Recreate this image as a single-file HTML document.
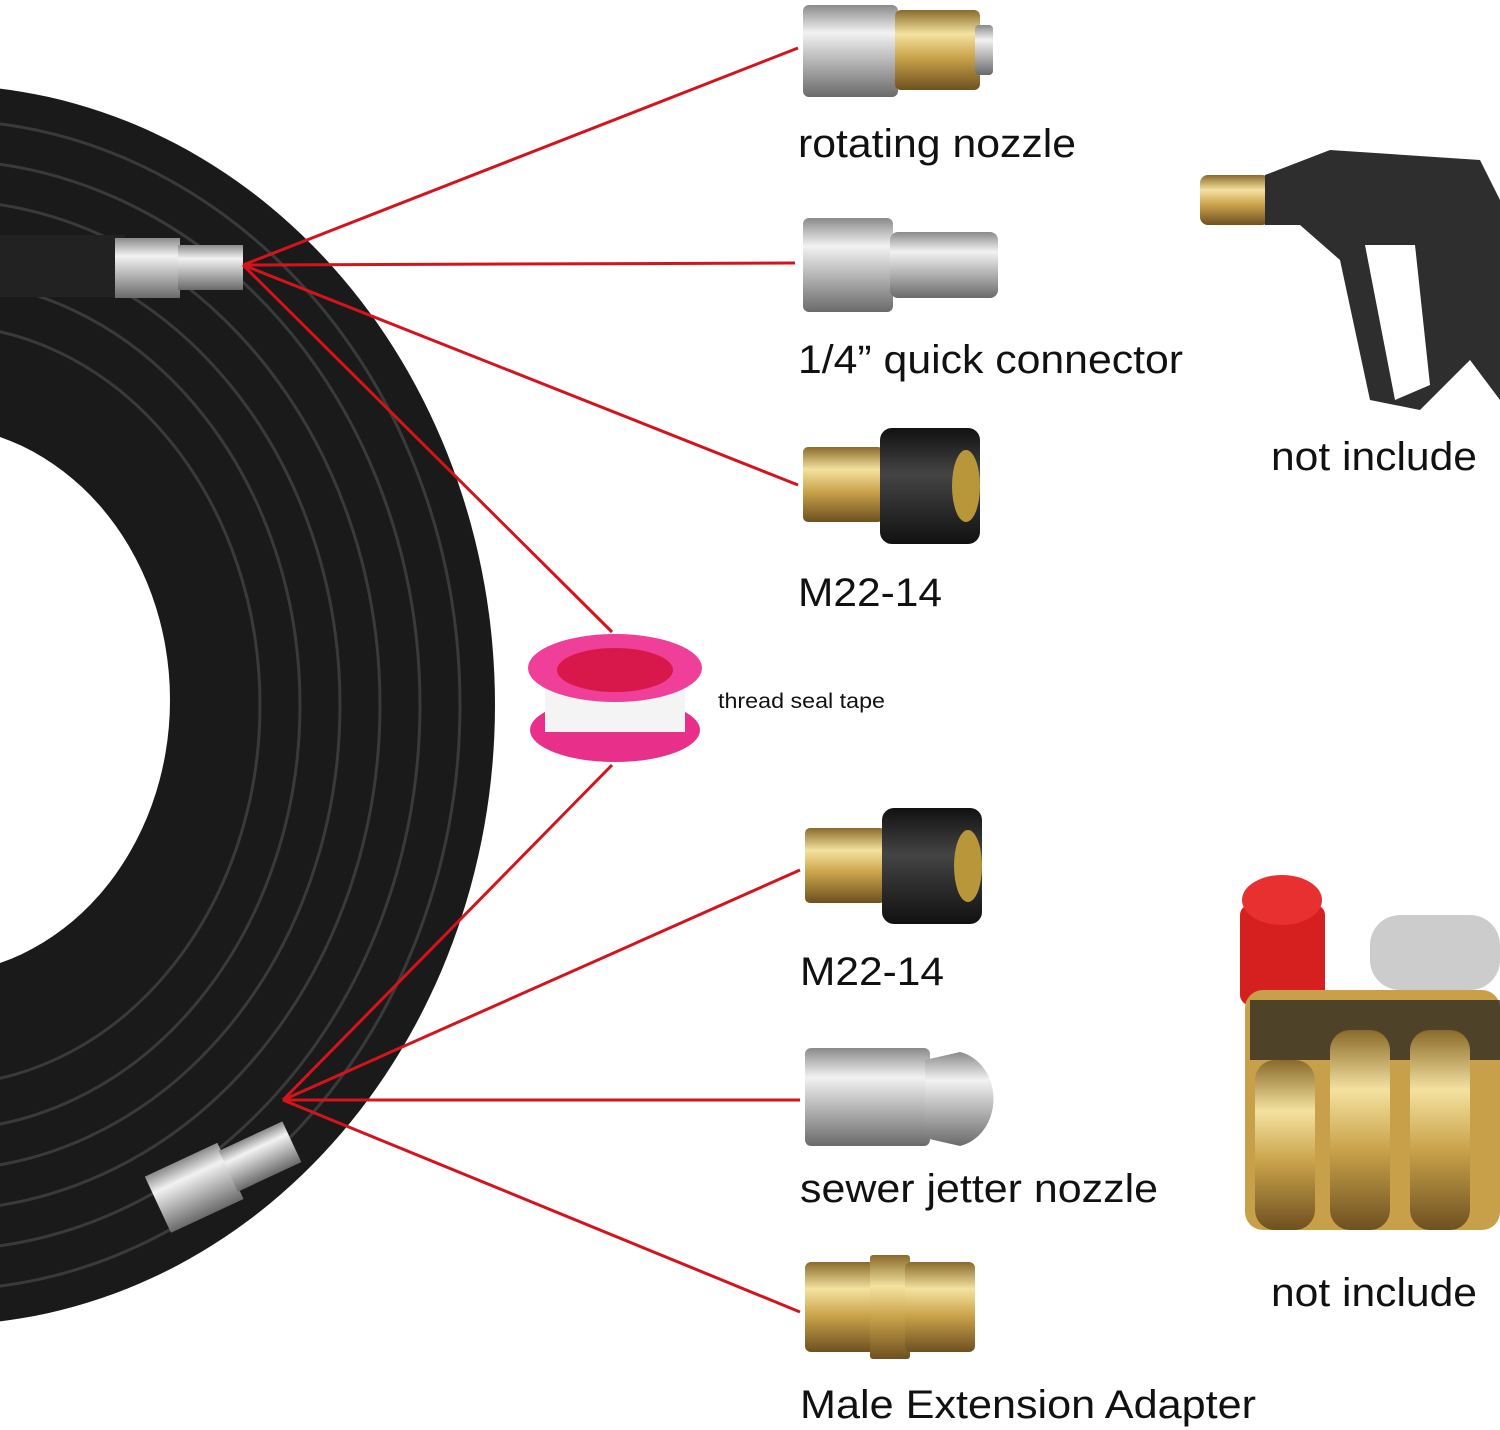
<!DOCTYPE html>
<html><head><meta charset="utf-8"><style>
html,body{margin:0;padding:0;background:#fff;}
svg{display:block}
text{font-family:"Liberation Sans",sans-serif;fill:#111}
</style></head><body>
<svg width="1500" height="1430" viewBox="0 0 1500 1430" xmlns="http://www.w3.org/2000/svg">
<defs>
<linearGradient id="steel" x1="0" y1="0" x2="0" y2="1">
<stop offset="0" stop-color="#8a8a8a"/><stop offset=".3" stop-color="#f2f2f2"/><stop offset=".6" stop-color="#b8b8b8"/><stop offset="1" stop-color="#6a6a6a"/></linearGradient>
<linearGradient id="brass" x1="0" y1="0" x2="0" y2="1">
<stop offset="0" stop-color="#8a6a2a"/><stop offset=".3" stop-color="#f4e2a0"/><stop offset=".6" stop-color="#c9a24a"/><stop offset="1" stop-color="#6e5020"/></linearGradient>
<linearGradient id="blk" x1="0" y1="0" x2="0" y2="1">
<stop offset="0" stop-color="#111"/><stop offset=".4" stop-color="#444"/><stop offset="1" stop-color="#111"/></linearGradient>
</defs>
<ellipse cx="-60" cy="705" rx="555" ry="620" fill="#1a1a1a"/>
<g fill="none" stroke="#3a3a3a" stroke-width="3">
<ellipse cx="-60" cy="705" rx="520" ry="585"/>
<ellipse cx="-60" cy="705" rx="480" ry="545"/>
<ellipse cx="-60" cy="705" rx="440" ry="505"/>
<ellipse cx="-60" cy="705" rx="400" ry="465"/>
<ellipse cx="-60" cy="705" rx="360" ry="425"/>
<ellipse cx="-60" cy="705" rx="320" ry="380"/>
</g>
<ellipse cx="-70" cy="700" rx="240" ry="275" fill="#fff"/>
<rect x="0" y="235" width="125" height="62" fill="#222"/>
<rect x="115" y="238" width="65" height="60" fill="url(#steel)"/>
<rect x="178" y="245" width="65" height="45" fill="url(#steel)"/>
<g transform="rotate(-25 230 1170)">
<rect x="150" y="1140" width="80" height="62" fill="url(#steel)"/>
<rect x="228" y="1148" width="70" height="45" fill="url(#steel)"/>
</g>
<g stroke="#d4141c" stroke-width="3" fill="none">
<line x1="243" y1="265" x2="798" y2="48"/>
<line x1="243" y1="265" x2="795" y2="263"/>
<line x1="243" y1="265" x2="798" y2="485"/>
<line x1="243" y1="265" x2="612" y2="632"/>
<line x1="283" y1="1100" x2="612" y2="765"/>
<line x1="283" y1="1100" x2="800" y2="870"/>
<line x1="283" y1="1100" x2="800" y2="1100"/>
<line x1="283" y1="1100" x2="800" y2="1312"/>
</g>
<rect x="803" y="5" width="95" height="92" rx="6" fill="url(#steel)"/>
<rect x="895" y="10" width="85" height="80" rx="6" fill="url(#brass)"/>
<rect x="975" y="25" width="18" height="50" rx="4" fill="url(#steel)"/>
<text x="798" y="157" font-size="40" textLength="278" lengthAdjust="spacingAndGlyphs">rotating nozzle</text>
<rect x="803" y="218" width="90" height="94" rx="6" fill="url(#steel)"/>
<rect x="890" y="232" width="108" height="66" rx="8" fill="url(#steel)"/>
<text x="798" y="373" font-size="40" textLength="385" lengthAdjust="spacingAndGlyphs">1/4” quick connector</text>
<rect x="803" y="447" width="80" height="75" rx="5" fill="url(#brass)"/>
<rect x="880" y="428" width="100" height="116" rx="12" fill="url(#blk)"/>
<ellipse cx="966" cy="486" rx="14" ry="36" fill="#b8963a"/>
<text x="798" y="606" font-size="40" textLength="144" lengthAdjust="spacingAndGlyphs">M22-14</text>
<ellipse cx="615" cy="730" rx="85" ry="32" fill="#e8308a"/>
<rect x="545" y="670" width="140" height="62" fill="#f4f4f4"/>
<ellipse cx="615" cy="668" rx="87" ry="34" fill="#ef3f98"/>
<ellipse cx="615" cy="670" rx="58" ry="22" fill="#d8184a"/>
<text x="718" y="708" font-size="21" textLength="167" lengthAdjust="spacingAndGlyphs">thread seal tape</text>
<rect x="805" y="828" width="80" height="75" rx="5" fill="url(#brass)"/>
<rect x="882" y="808" width="100" height="116" rx="12" fill="url(#blk)"/>
<ellipse cx="968" cy="866" rx="14" ry="36" fill="#b8963a"/>
<text x="800" y="985" font-size="40" textLength="144" lengthAdjust="spacingAndGlyphs">M22-14</text>
<rect x="805" y="1048" width="125" height="98" rx="6" fill="url(#steel)"/>
<path d="M925 1060 L960 1052 A42 48 0 0 1 960 1146 L925 1138 Z" fill="url(#steel)"/>
<text x="800" y="1202" font-size="40" textLength="358" lengthAdjust="spacingAndGlyphs">sewer jetter nozzle</text>
<rect x="805" y="1262" width="70" height="90" rx="6" fill="url(#brass)"/>
<rect x="870" y="1255" width="40" height="104" rx="3" fill="url(#brass)"/>
<rect x="905" y="1262" width="70" height="90" rx="6" fill="url(#brass)"/>
<text x="800" y="1418" font-size="40" textLength="456" lengthAdjust="spacingAndGlyphs">Male Extension Adapter</text>
<rect x="1200" y="175" width="70" height="50" rx="8" fill="url(#brass)"/>
<path d="M1265 175 L1330 150 L1480 160 L1500 200 L1500 400 L1470 360 L1420 410 L1370 400 L1340 260 L1300 225 L1265 225 Z" fill="#2e2e2e"/>
<path d="M1365 245 L1395 400 L1430 385 L1415 245 Z" fill="#fff"/>
<text x="1271" y="470" font-size="40" textLength="206" lengthAdjust="spacingAndGlyphs">not include</text>
<rect x="1240" y="905" width="85" height="100" rx="10" fill="#d62020"/>
<ellipse cx="1282" cy="900" rx="40" ry="25" fill="#e83030"/>
<rect x="1370" y="915" width="130" height="75" rx="30" fill="#ccc"/>
<rect x="1245" y="990" width="255" height="240" rx="18" fill="#c9a04a"/>
<rect x="1250" y="1000" width="250" height="60" fill="#1a1a1a" opacity=".7"/>
<g fill="url(#brass)">
<rect x="1255" y="1060" width="60" height="170" rx="20"/>
<rect x="1330" y="1030" width="60" height="200" rx="20"/>
<rect x="1410" y="1030" width="60" height="200" rx="20"/>
</g>
<text x="1271" y="1306" font-size="40" textLength="206" lengthAdjust="spacingAndGlyphs">not include</text>
</svg>
</body></html>
